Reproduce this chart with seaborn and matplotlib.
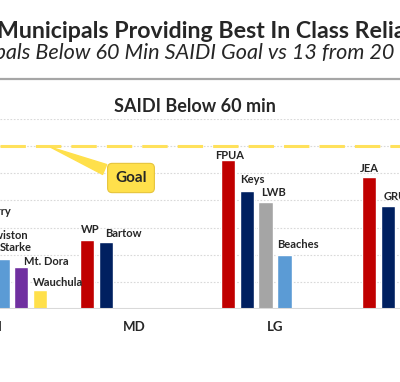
import matplotlib
matplotlib.use('Agg')
import matplotlib.pyplot as plt
import pandas as pd
import seaborn as sns

# SAIDI (minutes) per municipal utility, grouped by utility size class
categories = ["SM", "MD", "LG", "XL"]
utilities = ["Newberry", "Clewiston", "Starke", "Mt. Dora", "Wauchula",
             "WP", "Bartow",
             "FPUA", "Keys", "LWB", "Beaches",
             "JEA", "GRU", ""]
utility_class = ["SM"] * 5 + ["MD"] * 2 + ["LG"] * 4 + ["XL"] * 3
series_slot = ["s2", "s3", "s4", "s5", "s6",
               "s1", "s2",
               "s1", "s2", "s3", "s4",
               "s1", "s2", "s3"]
saidi_minutes = [32.5, 23.7, 18.5, 15.6, 7.0,
                 25.6, 24.8,
                 54.8, 43.3, 39.3, 20.0,
                 48.5, 38.1, 36.3]
goal_minutes = 60

slot_order = ["s1", "s2", "s3", "s4", "s5", "s6"]
slot_colors = {"s1": "#C00000", "s2": "#002060", "s3": "#A5A5A5",
               "s4": "#5B9BD5", "s5": "#7030A0", "s6": "#FFE04B"}

# label nudges in pixels: (from bar left, label centre above bar top)
label_nudge = {
    "Newberry": (4, 9), "Clewiston": (2, 9), "Starke": (5, 11),
    "Mt. Dora": (10, 5), "Wauchula": (0, 8), "WP": (1, 10),
    "Bartow": (7, 8), "FPUA": (-6, 5), "Keys": (1, 12),
    "LWB": (3, 10), "Beaches": (0, 10), "JEA": (-2, 9), "GRU": (3, 9),
}

df = pd.DataFrame({"utility": utilities, "size": utility_class,
                   "slot": series_slot, "saidi": saidi_minutes})

sns.set_style("white")
plt.rcParams['font.family'] = ['Lato', 'DejaVu Sans']

W, H = 400, 382
fig = plt.figure(figsize=(W / 100, H / 100), dpi=100)
fig.patch.set_facecolor("white")

# plot area: baseline at 309px, top (70 min) at 119px
ax = fig.add_axes([0, (H - 309) / H, 1, 190 / H])
sns.barplot(data=df, x="size", y="saidi", hue="slot", order=categories,
            hue_order=slot_order, palette=slot_colors, saturation=1,
            width=0.8, gap=0.23, legend=False, ax=ax)

ax.set_xlim(7 / 141, 407 / 141)
ax.set_ylim(0, 70)
ax.set_yticks(range(10, 71, 10))
ax.set_yticklabels([])
ax.set_xticks([])
ax.set_xlabel("")
ax.set_ylabel("")
ax.tick_params(length=0)
ax.yaxis.grid(True, linestyle=(0, (1.5, 1.5)), color="#D9D9D9", lw=0.8)
ax.set_axisbelow(True)
for s in ax.spines.values():
    s.set_visible(False)
ax.axhline(0, color="#D9D9D9", lw=1.5, zorder=1)

# goal line
ax.axhline(goal_minutes, color="#FFE15B", lw=2.2,
           linestyle=(0, (8.3, 3.3)), zorder=3)

ax.annotate("Goal", xy=(48, goal_minutes), xycoords=("figure pixels", "data"),
            xytext=(131, H - 178), textcoords="figure pixels",
            ha="center", va="center", fontsize=11, fontweight="bold",
            bbox=dict(boxstyle="round,pad=0.5,rounding_size=0.3",
                      fc="#FFE04B", ec="#E6C43A", lw=0.8),
            arrowprops=dict(arrowstyle="wedge,tail_width=0.7,shrink_factor=0.5",
                            fc="#FFE04B", ec="#FFE04B", relpos=(0.05, 0.75)),
            zorder=5)

# bar labels
lookup = {(c, s): u for u, c, s in zip(utilities, utility_class, series_slot)}
for slot, container in zip(slot_order, ax.containers):
    for bar in container:
        h = bar.get_height()
        if not h == h:
            continue
        cat = categories[int(round(bar.get_x() + bar.get_width() / 2))]
        name = lookup.get((cat, slot))
        if not name:
            continue
        dx, dy = label_nudge.get(name, (0, 9))
        ax.annotate(name, xy=(bar.get_x(), h), xytext=(dx * 0.72, dy * 0.72),
                    textcoords="offset points", ha="left", va="center",
                    fontsize=8, fontweight="bold", annotation_clip=False)

# category labels
for i, c in enumerate(categories):
    ax.text(i, -18 / 190, c, transform=ax.get_xaxis_transform(),
            ha="center", va="center", fontsize=9.5, fontweight="bold",
            clip_on=False)

# titles
fig.text(-3 / W, 1 - 31 / H, "Municipals Providing Best In Class Reliability",
         ha="left", va="center", fontsize=16.7, fontweight="bold")
fig.text(394 / W, 1 - 53 / H, "Municipals Below 60 Min SAIDI Goal vs 13 from 20",
         ha="right", va="center", fontsize=15.6, fontstyle="italic")
fig.add_artist(plt.Line2D([0, 1], [1 - 79 / H, 1 - 79 / H], color="#A6A6A6",
                          lw=1.6, transform=fig.transFigure))
fig.text(195 / W, 1 - 107 / H, "SAIDI Below 60 min", ha="center", va="center",
         fontsize=13, fontweight="bold")

fig.savefig("out.png", dpi=100, facecolor="white")
